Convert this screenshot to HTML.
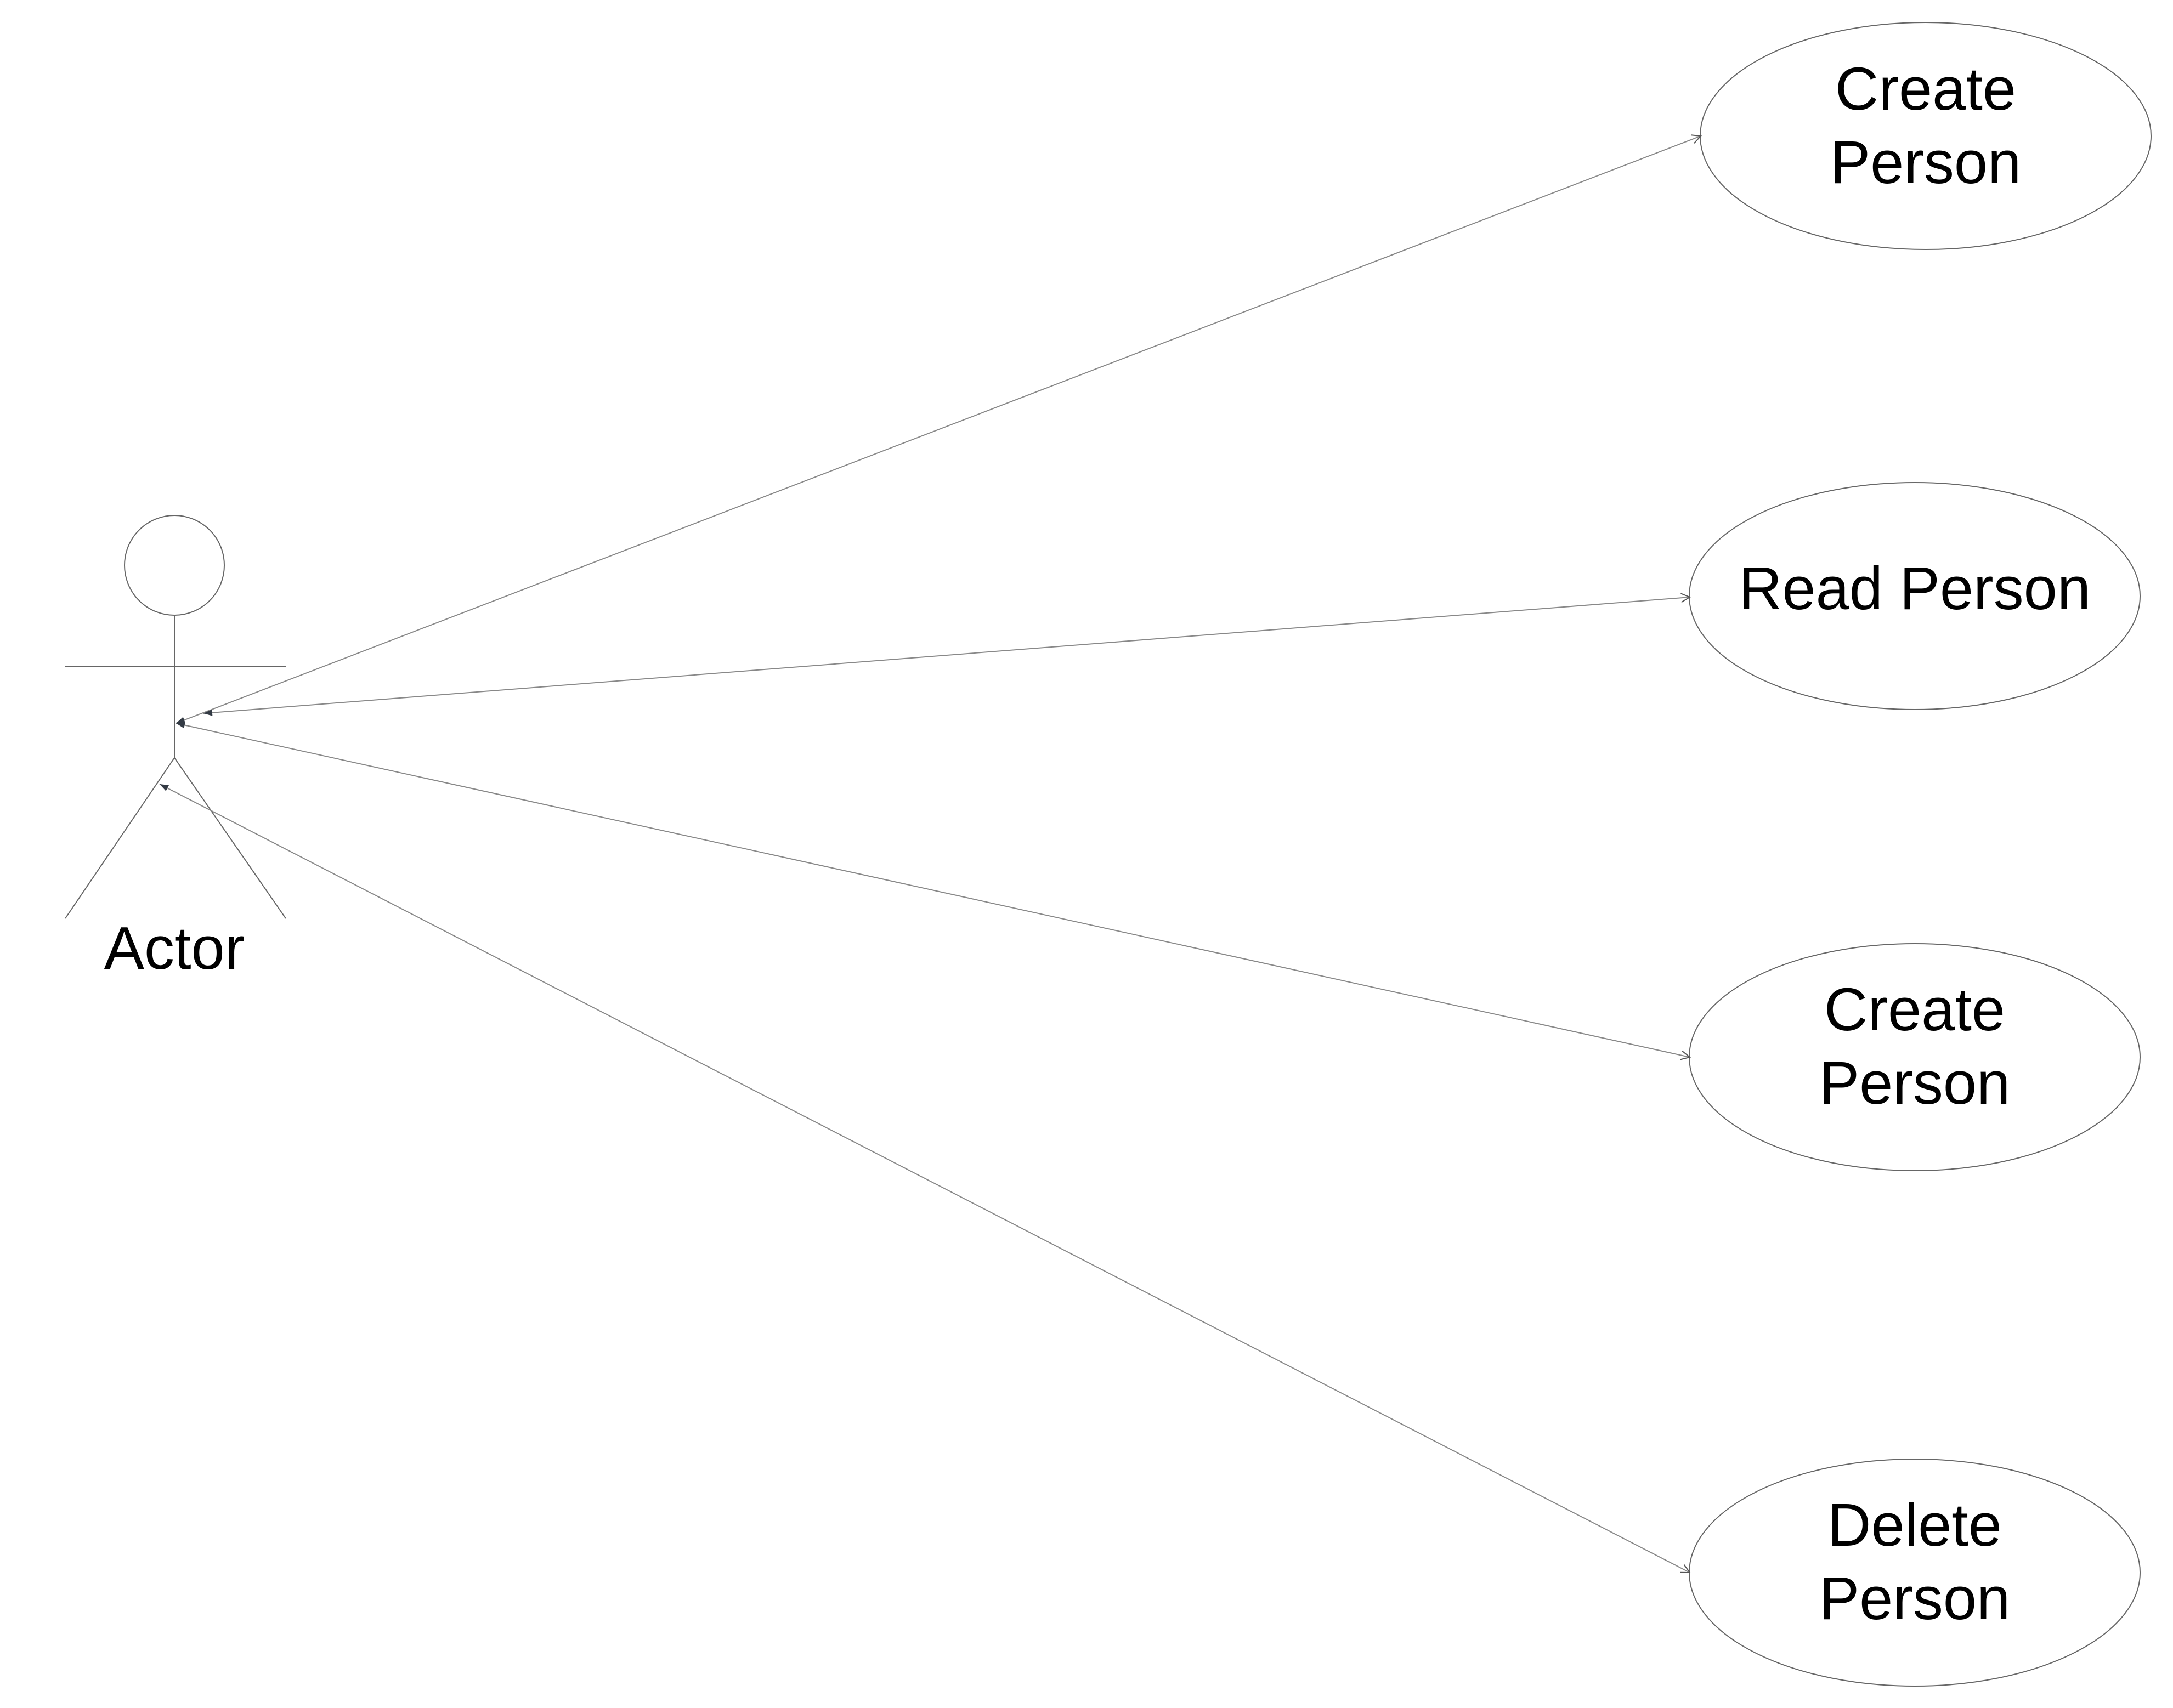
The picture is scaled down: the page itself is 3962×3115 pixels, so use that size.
<!DOCTYPE html>
<html><head><style>html,body{margin:0;padding:0;background:#fff;}svg{display:block;}</style></head>
<body>
<svg width="3962" height="3115" viewBox="0 0 3962 3115" xmlns="http://www.w3.org/2000/svg">
<defs>
<marker id="open" markerWidth="20" markerHeight="20" refX="18" refY="10" orient="auto" markerUnits="userSpaceOnUse">
<path d="M2,2 L18,10 L2,18" fill="none" stroke="#555" stroke-width="2"/>
</marker>
<marker id="fill" markerWidth="24" markerHeight="20" refX="2" refY="8" orient="auto" markerUnits="userSpaceOnUse">
<path d="M18,2 L2,8 L18,14 Z" fill="#333a44"/>
</marker>
</defs>
<g fill="none" stroke="#666" stroke-width="2">
<ellipse cx="3511" cy="248" rx="411" ry="207"/>
<ellipse cx="3491" cy="1087" rx="411" ry="207"/>
<ellipse cx="3491" cy="1928" rx="411" ry="207"/>
<ellipse cx="3491" cy="2868" rx="411" ry="207"/>
<circle cx="318" cy="1031" r="91"/>
<line x1="318" y1="1122" x2="318" y2="1382"/>
<line x1="119" y1="1215" x2="521" y2="1215"/>
<line x1="318" y1="1382" x2="119" y2="1675"/>
<line x1="318" y1="1382" x2="521" y2="1675"/>
</g>
<g stroke="#888" stroke-width="2" fill="none">
<line x1="321" y1="1319" x2="3101" y2="248" marker-start="url(#fill)" marker-end="url(#open)"/>
<line x1="371" y1="1301" x2="3081" y2="1089" marker-start="url(#fill)" marker-end="url(#open)"/>
<line x1="321" y1="1319" x2="3081" y2="1928" marker-start="url(#fill)" marker-end="url(#open)"/>
<line x1="291" y1="1430" x2="3081" y2="2868" marker-start="url(#fill)" marker-end="url(#open)"/>
</g>
<g font-family="Liberation Sans, sans-serif" font-size="110" fill="#000" text-anchor="middle">
<text x="3511" y="200">Create</text>
<text x="3511" y="334">Person</text>
<text x="3491" y="1111">Read Person</text>
<text x="3491" y="1879">Create</text>
<text x="3491" y="2013">Person</text>
<text x="3491" y="2819">Delete</text>
<text x="3491" y="2953">Person</text>
<text x="318" y="1767">Actor</text>
</g>
</svg>
</body></html>
